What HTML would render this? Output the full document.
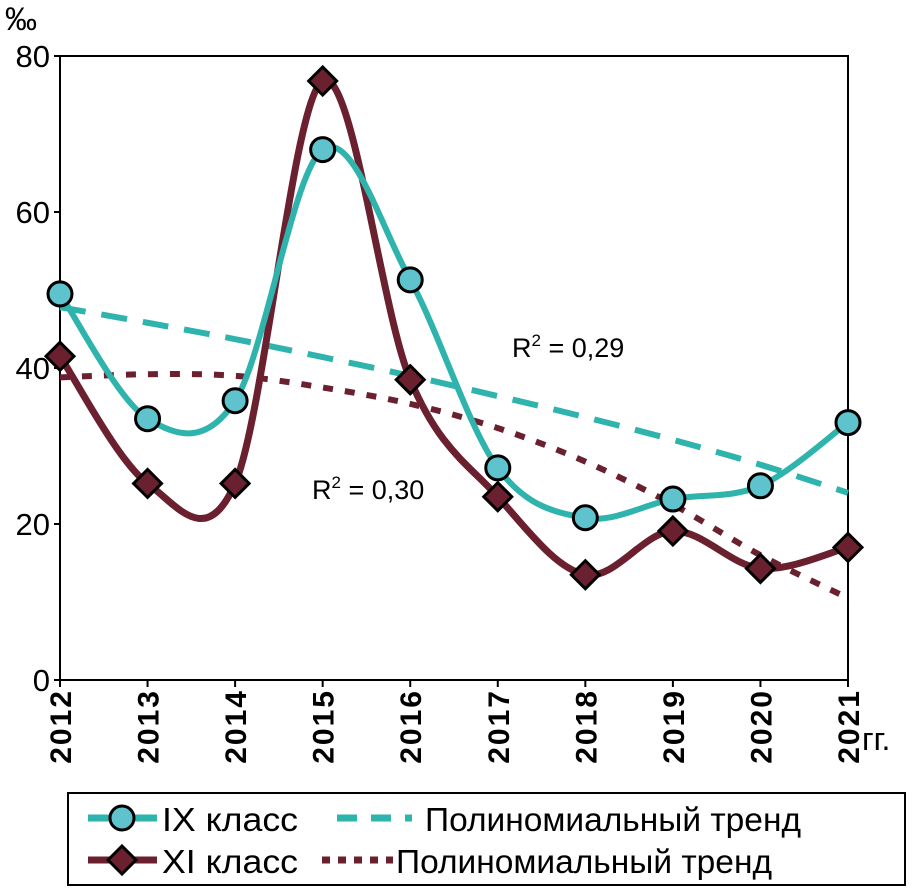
<!DOCTYPE html>
<html><head><meta charset="utf-8"><style>
body{margin:0;background:#fff;}
svg{display:block;font-family:"Liberation Sans",sans-serif;}
</style></head><body>
<svg width="919" height="888" viewBox="0 0 919 888">
<g id="axes"></g><g id="series"></g>
<text x="5" y="30" font-size="32">‰</text>
<text x="512" y="357" font-size="27">R<tspan dy="-11" font-size="17">2</tspan><tspan dy="11"> = 0,29</tspan></text>
<text x="312" y="499" font-size="27">R<tspan dy="-11" font-size="17">2</tspan><tspan dy="11"> = 0,30</tspan></text>
<text x="862" y="750" font-size="32">гг.</text>
<g>
<rect x="68" y="793" width="837" height="92" fill="#fff" stroke="#000" stroke-width="2"/>
<line x1="88" y1="818" x2="157" y2="818" stroke="#2fb3ad" stroke-width="7"/>
<circle cx="122" cy="818" r="12" fill="#5ec3cc" stroke="#000" stroke-width="3"/>
<text x="162" y="831" font-size="33" textLength="136" lengthAdjust="spacingAndGlyphs">IX класс</text>
<line x1="337" y1="818" x2="412" y2="818" stroke="#2fb3ad" stroke-width="7" stroke-dasharray="20,14"/>
<text x="425" y="831" font-size="33" textLength="376" lengthAdjust="spacingAndGlyphs">Полиномиальный тренд</text>
<line x1="88" y1="860" x2="157" y2="860" stroke="#6b2030" stroke-width="7"/>
<polygon points="122,846 136,860 122,874 108,860" fill="#6b2030" stroke="#000" stroke-width="3"/>
<text x="162" y="873" font-size="33" textLength="136" lengthAdjust="spacingAndGlyphs">XI класс</text>
<line x1="322" y1="860" x2="393" y2="860" stroke="#6b2030" stroke-width="7" stroke-dasharray="8,8"/>
<text x="396" y="873" font-size="33" textLength="376" lengthAdjust="spacingAndGlyphs">Полиномиальный тренд</text>
</g>
</svg>
<script>
const years=["2012","2013","2014","2015","2016","2017","2018","2019","2020","2021"];
const yTicks=[0,20,40,60,80];
const ixValues=[49.5,33.5,35.8,68,51.3,27.2,20.8,23.2,24.9,33];
const xiValues=[41.5,25.2,25.2,76.8,38.5,23.5,13.5,19.1,14.3,17];
const ixTrend=[47.8,45.8,43.7,41.4,39.0,36.4,33.7,30.8,27.6,24];
const xiTrend=[38.8,39.2,39.0,37.5,35.4,32.3,28.0,22.5,16.0,10.5];
const X0=60,X1=848,Y0=680,Y1=56;
const xs=i=>X0+(X1-X0)*i/(years.length-1);
const ys=v=>Y0-(Y0-Y1)*v/80;
const NS="http://www.w3.org/2000/svg";
const ax=document.getElementById('axes'),se=document.getElementById('series');
function mk(t,a,p){const e=document.createElementNS(NS,t);for(const k in a)e.setAttribute(k,a[k]);p.appendChild(e);return e;}
const fr=mk('rect',{x:X0,y:Y1,width:X1-X0,height:Y0-Y1,fill:'none',stroke:'#000','stroke-width':2},ax);


yTicks.forEach(v=>{
 mk('line',{x1:X0-6,x2:X0,y1:ys(v),y2:ys(v),stroke:'#000','stroke-width':2},ax);
 const t=mk('text',{x:X0-10,y:ys(v)+11,'text-anchor':'end','font-size':31},ax);t.textContent=v;
 
 
});
years.forEach((y,i)=>{
 mk('line',{x1:xs(i),x2:xs(i),y1:Y0,y2:Y0+7,stroke:'#000','stroke-width':2},ax);
 const t=mk('text',{x:0,y:0,'font-size':30,'font-weight':'bold','text-anchor':'end',transform:`translate(${xs(i)+11},${Y0+9}) rotate(-90)`,'letter-spacing':'2'},ax);t.textContent=y;
 
 
});
function smooth(vals){
 const p=vals.map((v,i)=>[xs(i),ys(v)]);let d=`M${p[0][0]},${p[0][1]}`;
 for(let i=0;i<p.length-1;i++){const a=p[i-1]||p[i],b=p[i],c=p[i+1],e=p[i+2]||c;
  d+=` C${b[0]+(c[0]-a[0])/6},${b[1]+(c[1]-a[1])/6} ${c[0]-(e[0]-b[0])/6},${c[1]-(e[1]-b[1])/6} ${c[0]},${c[1]}`;}
 return d;}
const t1=mk('path',{d:smooth(ixTrend),fill:'none',stroke:'#2fb3ad','stroke-width':6,'stroke-dasharray':'26,16'},se);


const t2=mk('path',{d:smooth(xiTrend),fill:'none',stroke:'#6b2030','stroke-width':6,'stroke-dasharray':'10,12'},se);


const l2=mk('path',{d:smooth(xiValues),fill:'none',stroke:'#6b2030','stroke-width':7},se);


const l1=mk('path',{d:smooth(ixValues),fill:'none',stroke:'#2fb3ad','stroke-width':6},se);


xiValues.forEach((v,i)=>{const x=xs(i),y=ys(v);
 const m=mk('polygon',{points:`${x},${y-14} ${x+14},${y} ${x},${y+14} ${x-14},${y}`,fill:'#6b2030',stroke:'#000','stroke-width':3},se);
 
 });
ixValues.forEach((v,i)=>{
 const m=mk('circle',{cx:xs(i),cy:ys(v),r:12,fill:'#5ec3cc',stroke:'#000','stroke-width':3},se);
 
 });
</script>
</body></html>
